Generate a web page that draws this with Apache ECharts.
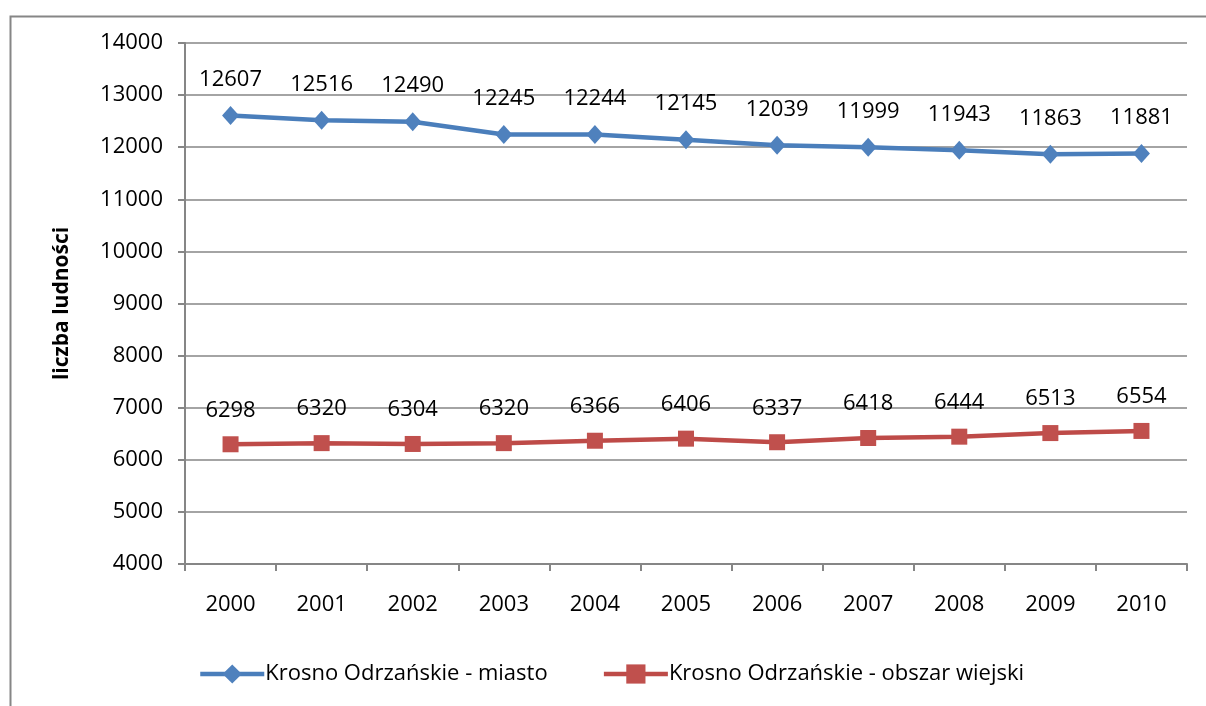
<!DOCTYPE html>
<html>
<head>
<meta charset="utf-8">
<script src="https://cdn.jsdelivr.net/npm/echarts@6/dist/echarts.min.js"></script>
<style>
  html, body { margin: 0; padding: 0; background: #fff; }
  #chart { width: 1206px; height: 706px; }
</style>
</head>
<body>
<div id="chart"></div>
<script>
// dane: liczba ludnosci 2000-2010
var years = ['2000', '2001', '2002', '2003', '2004', '2005', '2006', '2007', '2008', '2009', '2010'];
var miasto = [12607, 12516, 12490, 12245, 12244, 12145, 12039, 11999, 11943, 11863, 11881];
var wies = [6298, 6320, 6304, 6320, 6366, 6406, 6337, 6418, 6444, 6513, 6554];
var seriesNames = ['Krosno Odrzańskie - miasto', 'Krosno Odrzańskie - obszar wiejski'];

var font = '"Open Sans", "Noto Sans", sans-serif';
var gray = '#868686';

var myChart = echarts.init(document.getElementById('chart'));
var option = {
    backgroundColor: '#fff',
    animation: false,
    textStyle: { fontFamily: font },
    graphic: [{
        type: 'rect',
        left: 8, top: 14,
        shape: { width: 1220, height: 720 },
        style: { fill: 'none', stroke: gray, lineWidth: 2 },
        silent: true
    }],
    grid: { left: 185, right: 19, top: 43, bottom: 142 },
    legend: {
        bottom: 16,
        left: 193,
        itemWidth: 64,
        itemHeight: 24,
        itemGap: 54,
        lineStyle: { width: 4.5 },
        textStyle: { fontFamily: font, fontSize: 22, color: '#000', padding: [0, 0, 0, -4] },
        data: seriesNames
    },
    xAxis: {
        type: 'category',
        data: years,
        boundaryGap: true,
        axisLine: { lineStyle: { color: gray, width: 2 } },
        axisTick: { show: true, length: 7, lineStyle: { color: gray, width: 2 } },
        axisLabel: { color: '#000', fontSize: 22, margin: 30, fontFamily: font }
    },
    yAxis: {
        type: 'value',
        min: 4000, max: 14000, interval: 1000,
        name: 'liczba ludności',
        nameLocation: 'middle',
        nameGap: 112,
        nameTextStyle: { color: '#000', fontSize: 21, fontWeight: 'bold', fontFamily: font },
        axisLine: { show: true, lineStyle: { color: gray, width: 2 } },
        axisTick: { show: true, length: 7, lineStyle: { color: gray, width: 2 } },
        splitLine: { lineStyle: { color: gray, width: 1.5 } },
        axisLabel: { color: '#000', fontSize: 22, margin: 22, fontFamily: font,
            formatter: function (v) { return String(v); } }
    },
    series: [{
        name: seriesNames[0],
        type: 'line',
        data: miasto,
        symbol: 'diamond',
        symbolSize: [17, 19],
        lineStyle: { color: '#4A7EBB', width: 4.5 },
        itemStyle: { color: '#4F81BD' },
        label: { show: true, position: 'top', distance: 15, color: '#000', fontSize: 22, fontFamily: font }
    }, {
        name: seriesNames[1],
        type: 'line',
        data: wies,
        symbol: 'rect',
        symbolSize: 16,
        lineStyle: { color: '#BE4B48', width: 4.5 },
        itemStyle: { color: '#C0504D' },
        label: { show: true, position: 'top', distance: 15, color: '#000', fontSize: 22, fontFamily: font }
    }]
};
myChart.setOption(option);
</script>
</body>
</html>
